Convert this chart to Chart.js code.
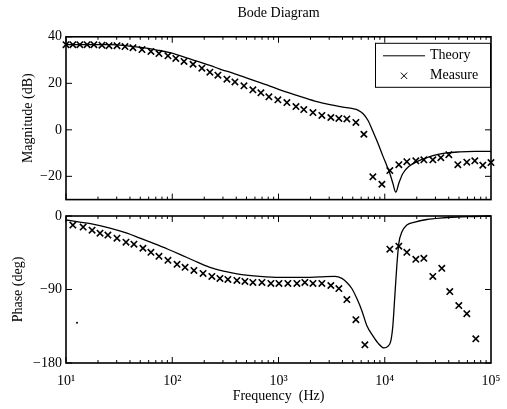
<!DOCTYPE html>
<html>
<head>
<meta charset="utf-8">
<script src="https://cdn.jsdelivr.net/npm/chart.js@4.4.1/dist/chart.umd.min.js"></script>
<style>
	html, body { margin: 0; padding: 0; background: #fff; }
	#wrap { position: relative; width: 507px; height: 409px; overflow: hidden; }
	canvas { position: absolute; left: 0; }
	#bode-mag { top: 0; }
	#bode-phase { top: 200px; }
</style>
</head>
<body>
<div id="wrap">
	<canvas id="bode-mag" width="507" height="212"></canvas>
	<canvas id="bode-phase" width="507" height="209"></canvas>
</div>
<script>
// Measured magnitude (Hz, dB)
const magFreq = [10, 11.6, 13.5, 15.8, 18.3, 21.8, 25.4, 30.2, 35.9, 42.7, 51.9, 63, 75, 91.1, 108, 129, 157, 190, 226, 269, 327, 389, 473, 574, 683, 812, 987, 1200, 1460, 1730, 2110, 2560, 3110, 3700, 4400, 5350, 6360, 7730, 9400, 11170, 13570, 16140, 19610, 23330, 28350, 33720, 40100, 48750, 59200, 70400, 83750, 100000];
const magDb = [36.6, 36.6, 36.6, 36.6, 36.6, 36.4, 36.2, 36.2, 35.8, 35.3, 34.5, 33.7, 32.8, 31.8, 30.7, 29.4, 28.2, 26.5, 24.8, 23.5, 21.8, 20.6, 18.9, 17.2, 15.9, 14.2, 12.9, 11.7, 10.0, 8.7, 7.4, 6.2, 5.3, 4.9, 4.7, 3.2, -1.9, -20.2, -23.4, -17.5, -15.0, -13.7, -13.3, -12.9, -12.9, -12.0, -10.7, -15.0, -13.9, -13.3, -15.2, -14.1];

// Measured phase (Hz, deg)
const phaseFreq = [11.6, 14.5, 17.6, 20.9, 24.8, 30.2, 36.7, 43.6, 53, 63, 75, 91.1, 111, 132, 160, 195, 236, 281, 334, 406, 483, 574, 698, 848, 1010, 1225, 1490, 1770, 2110, 2560, 3110, 3700, 4400, 5350, 6500, 11170, 13570, 16140, 19610, 23330, 28350, 34440, 40950, 49770, 59200, 71950];
const phaseDeg = [-11.1, -13.6, -17.3, -21.0, -23.4, -27.1, -32.1, -34.5, -39.5, -44.4, -49.3, -54.2, -59.2, -62.9, -66.6, -70.3, -74.0, -76.4, -77.7, -78.9, -80.1, -81.4, -81.4, -82.6, -82.6, -82.6, -82.6, -81.4, -82.6, -82.6, -85.1, -88.8, -102.3, -127.0, -157.8, -40.7, -37.0, -44.4, -53.0, -51.8, -74.0, -64.1, -92.5, -109.7, -119.6, -150.4];

// stray dot in the phase plot
const strayFreq = [12.7];
const strayDeg = [-130.7];

// Theory curves
const thMagFreq = [10, 16.8, 25.9, 40, 53, 71.8, 95.1, 126, 167, 226, 294, 372, 538, 778, 1100, 1590, 2300, 3045, 4040, 5010, 5585, 6225, 6940, 7730, 8610, 9590, 10460, 11170, 11920, 12710, 13570, 14800, 17220, 20050, 24890, 30920, 38390, 50870, 70400, 100000];
const thMagDb = [36.6, 36.6, 36.6, 36.0, 35.3, 34.3, 33.2, 31.5, 29.6, 27.7, 25.8, 24.4, 21.8, 19.3, 16.7, 14.4, 12.1, 10.8, 9.8, 9.1, 8.5, 7.0, 4.1, -0.6, -5.7, -11.2, -15.4, -18.8, -23.0, -26.8, -23.0, -18.8, -15.4, -13.7, -12.0, -10.7, -9.9, -9.5, -9.3, -9.3];

const thPhaseFreq = [10, 13.5, 17.9, 25.9, 37.5, 49.7, 65.8, 91.1, 118, 157, 226, 313, 434, 668, 1030, 1590, 2450, 3390, 3950, 4400, 4900, 5465, 6090, 6790, 7730, 8610, 9810, 10690, 11410, 11920, 12450, 13000, 13570, 14490, 16140, 19190, 24890, 32970, 47640, 70400, 100000];
const thPhaseDeg = [-4.9, -7.4, -9.9, -14.8, -21.0, -27.1, -33.3, -40.7, -46.9, -54.2, -62.9, -67.8, -71.5, -74.0, -75.2, -75.2, -74.6, -74.0, -76.4, -81.4, -88.8, -101.1, -115.9, -134.4, -146.7, -155.3, -161.5, -159.7, -152.9, -134.4, -97.4, -60.4, -33.3, -19.7, -11.1, -7.4, -4.3, -2.5, -1.2, -0.6, 0];

const freqTicks = [10, 100, 1000, 10000, 100000];
const magTicks = [-20, 0, 20, 40];
const phaseTicks = [-180, -90, 0];

const SUP = { 1: "\u00b9", 2: "\u00b2", 3: "\u00b3", 4: "\u2074", 5: "\u2075" };

Chart.defaults.font.family = "'Liberation Serif', 'Times New Roman', serif";
Chart.defaults.font.size = 14;
Chart.defaults.color = "#000";

const pts = (xs, ys) => xs.map((x, i) => ({ x: x, y: ys[i] }));
const fmtNum = (v) => (v < 0 ? "\u2212" + Math.abs(v) : String(v));

// box round the plot with inward ticks, MATLAB style
const boxTicks = {
	id: "boxTicks",
	afterDatasetsDraw(chart) {
		const { ctx, chartArea: a, scales } = chart;
		const x = scales.x, y = scales.y;
		ctx.save();
		ctx.strokeStyle = "#000";
		ctx.lineWidth = 1;
		ctx.beginPath();
		for (let d = 10; d < 100000; d *= 10) {
			for (let m = 1; m < 10; m++) {
				const px = x.getPixelForValue(d * m);
				const len = m === 1 ? 6 : 3;
				ctx.moveTo(px, a.top);
				ctx.lineTo(px, a.top + len);
				ctx.moveTo(px, a.bottom);
				ctx.lineTo(px, a.bottom - len);
			}
		}
		y.ticks.forEach((t) => {
			const py = y.getPixelForValue(t.value);
			ctx.moveTo(a.left, py);
			ctx.lineTo(a.left + 6, py);
			ctx.moveTo(a.right, py);
			ctx.lineTo(a.right - 6, py);
		});
		ctx.stroke();
		ctx.lineWidth = 1.6;
		ctx.strokeRect(a.left, a.top, a.right - a.left, a.bottom - a.top);
		ctx.restore();
	},
};

// legend box in the upper right of the magnitude plot
const boxLegend = {
	id: "boxLegend",
	afterDraw(chart) {
		if (!chart.options.plugins.boxLegend.show) return;
		const { ctx, chartArea: a } = chart;
		const ds = chart.data.datasets;
		const w = 115, h = 44;
		const left = a.right - w - 1, top = a.top + 6;
		ctx.save();
		ctx.fillStyle = "#fff";
		ctx.fillRect(left, top, w, h);
		ctx.strokeStyle = "#000";
		ctx.lineWidth = 1;
		ctx.strokeRect(left + 0.5, top + 0.5, w, h);
		ctx.beginPath();
		ctx.moveTo(left + 8, top + 13);
		ctx.lineTo(left + 50, top + 13);
		ctx.stroke();
		Chart.helpers.drawPoint(ctx, { pointStyle: "crossRot", radius: 4.5, borderWidth: 1.6 }, left + 29, top + 33);
		ctx.fillStyle = "#000";
		ctx.font = "14px 'Liberation Serif', serif";
		ctx.textBaseline = "middle";
		ctx.fillText(ds[0].label, left + 55, top + 13);
		ctx.fillText(ds[1].label, left + 55, top + 33);
		ctx.restore();
	},
};

const xAxis = (showLabels) => ({
	type: "logarithmic",
	min: 10,
	max: 100000,
	display: showLabels,
	grid: { display: false, drawTicks: false },
	border: { display: false },
	afterBuildTicks: (scale) => {
		scale.ticks = freqTicks.map((v) => ({ value: v }));
	},
	afterFit: (scale) => {
		if (showLabels) scale.height = 46;
		scale.paddingLeft = 0;
		scale.paddingRight = 0;
	},
	ticks: {
		autoSkip: false,
		maxRotation: 0,
		padding: 10,
		callback: (v) => "10" + SUP[Math.round(Math.log10(v))],
	},
	title: {
		display: showLabels,
		text: "Frequency  (Hz)",
		padding: { top: 0, bottom: 4 },
	},
});

const yAxis = (min, max, ticks, label, width) => ({
	type: "linear",
	min: min,
	max: max,
	grid: { display: false, drawTicks: false },
	border: { display: false },
	afterBuildTicks: (scale) => {
		scale.ticks = ticks.map((v) => ({ value: v }));
	},
	afterFit: (scale) => {
		scale.width = width;
	},
	ticks: {
		padding: 4,
		callback: (v) => fmtNum(v),
	},
	title: { display: true, text: label, padding: { top: 4, bottom: 0 } },
});

const lineSet = (label, data) => ({
	label: label,
	data: data,
	borderColor: "#000",
	borderWidth: 1.3,
	pointRadius: 0,
	cubicInterpolationMode: "monotone",
	fill: false,
	clip: 2,
});

const markSet = (label, data) => ({
	label: label,
	data: data,
	showLine: false,
	pointStyle: "crossRot",
	pointRadius: 4.5,
	borderColor: "#000",
	borderWidth: 1.6,
	clip: 5,
});

new Chart(document.getElementById("bode-mag").getContext("2d"), {
	type: "line",
	data: {
		datasets: [lineSet("Theory", pts(thMagFreq, thMagDb)), markSet("Measure", pts(magFreq, magDb))],
	},
	options: {
		responsive: false,
		animation: false,
		devicePixelRatio: 1,
		layout: { padding: { left: 16, right: 16, top: 0, bottom: 10 } },
		scales: {
			x: xAxis(false),
			y: yAxis(-30, 40, magTicks, "Magnitude (dB)", 50),
		},
		plugins: {
			legend: { display: false },
			tooltip: { enabled: false },
			title: {
				display: true,
				text: "Bode Diagram",
				fullSize: false,
				font: { size: 14, weight: "normal" },
				padding: { top: 5, bottom: 15 },
			},
			boxLegend: { show: true },
		},
	},
	plugins: [boxTicks, boxLegend],
});

new Chart(document.getElementById("bode-phase").getContext("2d"), {
	type: "line",
	data: {
		datasets: [
			lineSet("Theory", pts(thPhaseFreq, thPhaseDeg)),
			markSet("Measure", pts(phaseFreq, phaseDeg)),
			{
				label: "stray",
				data: pts(strayFreq, strayDeg),
				showLine: false,
				pointStyle: "circle",
				pointRadius: 1,
				backgroundColor: "#000",
				borderColor: "#000",
				borderWidth: 0,
			},
		],
	},
	options: {
		responsive: false,
		animation: false,
		devicePixelRatio: 1,
		layout: { padding: { left: 6, right: 16, top: 16, bottom: 0 } },
		scales: {
			x: xAxis(true),
			y: yAxis(-180, 0, phaseTicks, "Phase (deg)", 60),
		},
		plugins: {
			legend: { display: false },
			tooltip: { enabled: false },
			boxLegend: { show: false },
		},
	},
	plugins: [boxTicks, boxLegend],
});
</script>
</body>
</html>
